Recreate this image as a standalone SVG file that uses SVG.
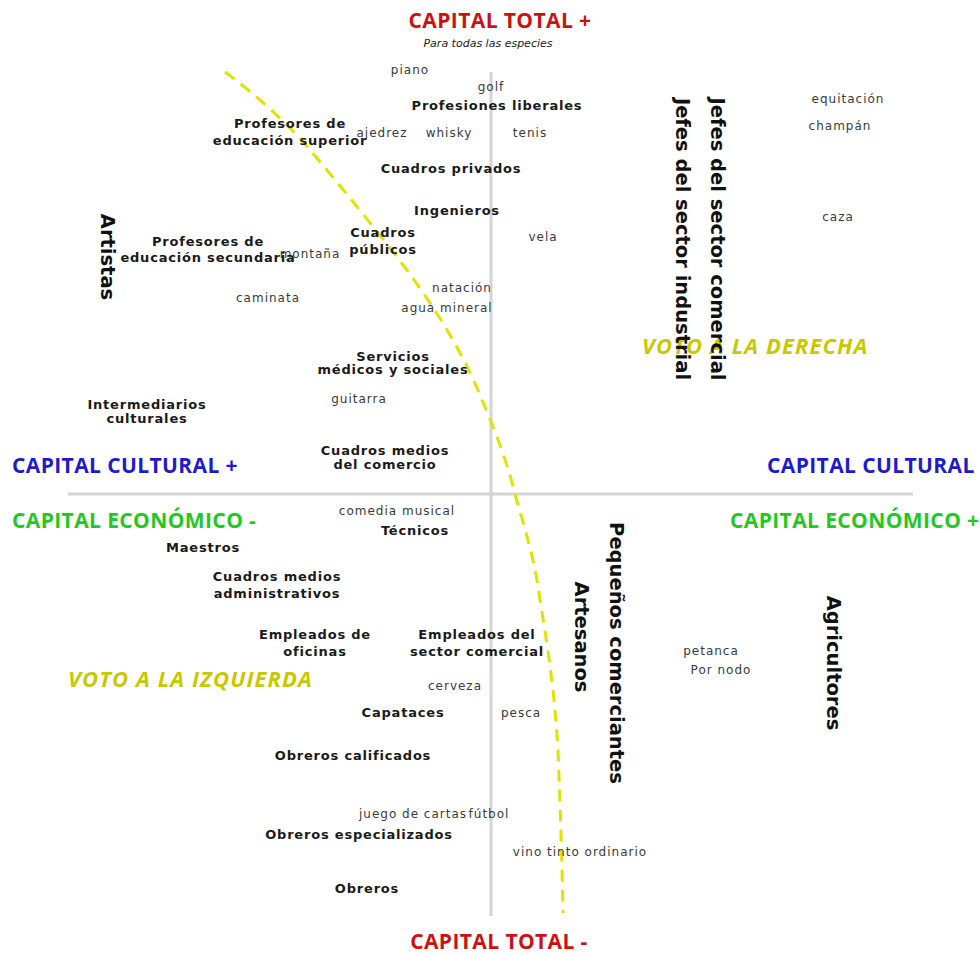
<svg xmlns="http://www.w3.org/2000/svg" width="980" height="956" viewBox="0 0 980 956">
<style>
.b{font-family:"DejaVu Sans",sans-serif;font-weight:bold;font-size:13px;letter-spacing:0.8px;fill:#1a1a1a;text-anchor:middle}
.s{font-family:"DejaVu Sans",sans-serif;font-size:12px;letter-spacing:1px;fill:#3a3a3a;text-anchor:middle}
.v{font-family:"DejaVu Sans",sans-serif;font-weight:bold;font-size:19.5px;fill:#111;text-anchor:middle}
.ax{font-family:"Open Sans",sans-serif;font-weight:bold;font-size:21px;letter-spacing:0.4px}
.red{fill:#cc1111}
.blue{fill:#1c1cc8}
.green{fill:#22c822}
.vote{font-family:"Open Sans",sans-serif;font-weight:bold;font-style:italic;font-size:22px;letter-spacing:1.1px;fill:#c8c800}
.grid{stroke:#d4d4d4;stroke-width:3;fill:none}
.curve{stroke:#e2e200;stroke-width:3;fill:none;stroke-dasharray:12 8}
</style>
<rect width="980" height="956" fill="#fff"/>
<g id="connectors">
<line class="grid" x1="491" y1="72" x2="491" y2="916"/>
<line class="grid" x1="68" y1="494" x2="913" y2="494"/>
<path class="curve" d="M225,72 C250,90 290,125 310,150 C340,185 380,235 407,270 C430,302 460,345 482,400 C495,430 508,465 515,494 C525,530 535,560 540,600 C550,660 555,700 558,750 C560,800 562,860 563,913"/>
</g>
<g id="axis-labels">
<text class="ax red" x="500" y="28" text-anchor="middle">CAPITAL TOTAL +</text>
<text x="488" y="47" text-anchor="middle" font-family="DejaVu Sans, sans-serif" font-style="italic" font-size="11" fill="#222">Para todas las especies</text>
<text class="ax red" x="499" y="949" text-anchor="middle">CAPITAL TOTAL -</text>
<text class="ax blue" x="12" y="473">CAPITAL CULTURAL +</text>
<text class="ax blue" x="767" y="473">CAPITAL CULTURAL</text>
<text class="ax green" x="12" y="528">CAPITAL ECONÓMICO -</text>
<text class="ax green" x="730" y="528">CAPITAL ECONÓMICO +</text>
<text class="vote" x="68" y="687">VOTO A LA IZQUIERDA</text>
<text class="vote" x="642" y="354">VOTO A LA DERECHA</text>
</g>
<g id="practices">
<text class="s" x="410" y="74">piano</text>
<text class="s" x="491" y="91">golf</text>
<text class="s" x="382" y="137">ajedrez</text>
<text class="s" x="449" y="137">whisky</text>
<text class="s" x="530" y="137">tenis</text>
<text class="s" x="543" y="241">vela</text>
<text class="s" x="310" y="258">montaña</text>
<text class="s" x="268" y="302">caminata</text>
<text class="s" x="462" y="292">natación</text>
<text class="s" x="447" y="312">agua mineral</text>
<text class="s" x="359" y="403">guitarra</text>
<text class="s" x="397" y="515">comedia musical</text>
<text class="s" x="455" y="690">cerveza</text>
<text class="s" x="521" y="717">pesca</text>
<text class="s" x="413" y="818">juego de cartas</text>
<text class="s" x="489" y="818">fútbol</text>
<text class="s" x="580" y="856">vino tinto ordinario</text>
<text class="s" x="848" y="103">equitación</text>
<text class="s" x="840" y="130">champán</text>
<text class="s" x="838" y="221">caza</text>
<text class="s" x="711" y="655">petanca</text>
<text class="s" x="721" y="674">Por nodo</text>
</g>
<g id="n-profesiones-liberales"><text class="b" x="497" y="110">Profesiones liberales</text></g>
<g id="n-prof-superior"><text class="b" x="290" y="128">Profesores de</text><text class="b" x="290" y="145">educación superior</text></g>
<g id="n-cuadros-privados"><text class="b" x="451" y="173">Cuadros privados</text></g>
<g id="n-ingenieros"><text class="b" x="457" y="215">Ingenieros</text></g>
<g id="n-cuadros-publicos"><text class="b" x="383" y="237">Cuadros</text><text class="b" x="383" y="254">públicos</text></g>
<g id="n-prof-secundaria"><text class="b" x="208" y="246">Profesores de</text><text class="b" x="208" y="262">educación secundaria</text></g>
<g id="n-servicios"><text class="b" x="393" y="361">Servicios</text><text class="b" x="393" y="374">médicos y sociales</text></g>
<g id="n-intermediarios"><text class="b" x="147" y="409">Intermediarios</text><text class="b" x="147" y="423">culturales</text></g>
<g id="n-cuadros-comercio"><text class="b" x="385" y="455">Cuadros medios</text><text class="b" x="385" y="469">del comercio</text></g>
<g id="n-tecnicos"><text class="b" x="415" y="535">Técnicos</text></g>
<g id="n-maestros"><text class="b" x="203" y="552">Maestros</text></g>
<g id="n-cuadros-admin"><text class="b" x="277" y="581">Cuadros medios</text><text class="b" x="277" y="598">administrativos</text></g>
<g id="n-empleados-oficinas"><text class="b" x="315" y="639">Empleados de</text><text class="b" x="315" y="656">oficinas</text></g>
<g id="n-empleados-comercial"><text class="b" x="477" y="639">Empleados del</text><text class="b" x="477" y="656">sector comercial</text></g>
<g id="n-capataces"><text class="b" x="403" y="717">Capataces</text></g>
<g id="n-obreros-calificados"><text class="b" x="353" y="760">Obreros calificados</text></g>
<g id="n-obreros-especializados"><text class="b" x="359" y="839">Obreros especializados</text></g>
<g id="n-obreros"><text class="b" x="367" y="893">Obreros</text></g>
<g id="n-artistas"><text class="v" transform="translate(101,257) rotate(90)">Artistas</text></g>
<g id="n-jefes-industrial"><text class="v" transform="translate(676,239) rotate(90)">Jefes del sector industrial</text></g>
<g id="n-jefes-comercial"><text class="v" transform="translate(711,239) rotate(90)">Jefes del sector comercial</text></g>
<g id="n-pequenos-comerciantes"><text class="v" transform="translate(610,653) rotate(90)">Pequeños comerciantes</text></g>
<g id="n-artesanos"><text class="v" transform="translate(575,637) rotate(90)">Artesanos</text></g>
<g id="n-agricultores"><text class="v" transform="translate(827,663) rotate(90)">Agricultores</text></g>
</svg>
